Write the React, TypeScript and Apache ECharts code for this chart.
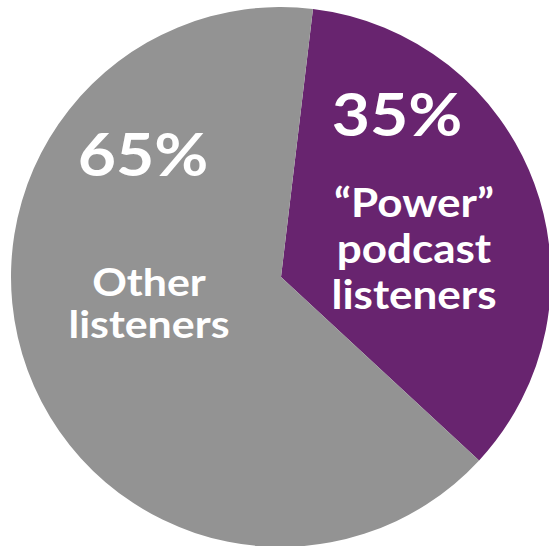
import React, { useEffect, useRef } from "react";
import * as echarts from "echarts";

const categories = ["“Power” podcast listeners", "Other listeners"];
const shares = [35, 65];
const colors = ["#68246F", "#939393"];

export default function App() {
  const ref = useRef<HTMLDivElement>(null);
  useEffect(() => {
    if (!ref.current) return;
    const chart = echarts.init(ref.current, null, { renderer: "svg" });
    const font = "Lato";
    chart.setOption({
      animation: false,
      series: [
        {
          type: "pie",
          center: [281, 277],
          radius: [0, 270],
          startAngle: 83.2,
          clockwise: true,
          label: { show: false },
          labelLine: { show: false },
          silent: true,
          itemStyle: { borderWidth: 0 },
          data: categories.map((c, i) => ({
            name: c,
            value: shares[i],
            itemStyle: { color: colors[i] },
          })),
        },
      ],
      graphic: [
        {
          type: "text",
          z: 100,
          x: 397,
          y: 113,
          scaleX: 1.1,
          style: {
            text: shares[0] + "%",
            fill: "#fff",
            font: `bold 60px ${font}`,
            align: "center",
            verticalAlign: "middle",
          },
        },
        {
          type: "text",
          z: 100,
          x: 414,
          y: 248,
          scaleX: 1.1,
          style: {
            text: "“Power”\npodcast\nlisteners",
            fill: "#fff",
            font: `bold 40px ${font}`,
            lineHeight: 46,
            align: "center",
            verticalAlign: "middle",
          },
        },
        {
          type: "text",
          z: 100,
          x: 143,
          y: 153,
          scaleX: 1.1,
          style: {
            text: shares[1] + "%",
            fill: "#fff",
            font: `bold 60px ${font}`,
            align: "center",
            verticalAlign: "middle",
          },
        },
        {
          type: "text",
          z: 100,
          x: 149,
          y: 302,
          scaleX: 1.1,
          style: {
            text: "Other\nlisteners",
            fill: "#fff",
            font: `bold 39px ${font}`,
            lineHeight: 42,
            align: "center",
            verticalAlign: "middle",
          },
        },
      ],
    });
    return () => chart.dispose();
  }, []);
  return (
    <div
      ref={ref}
      style={{ position: "absolute", left: 0, top: 0, width: 549, height: 546 }}
    />
  );
}
